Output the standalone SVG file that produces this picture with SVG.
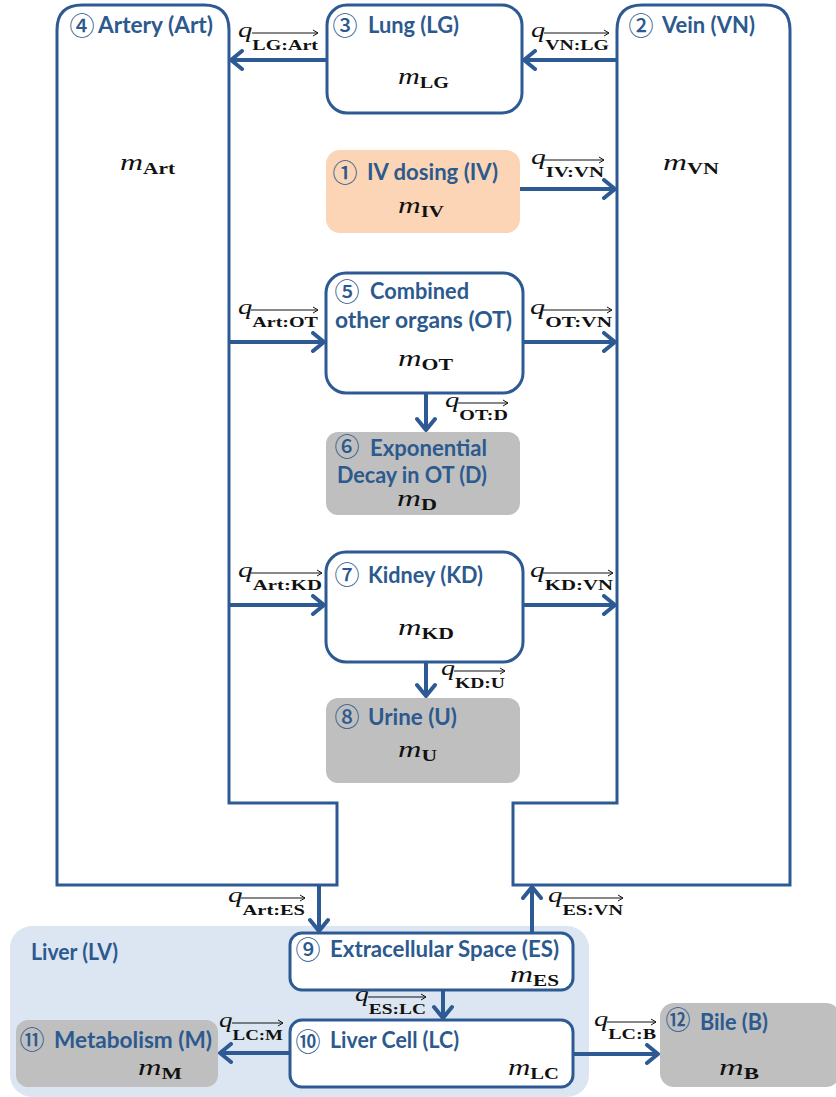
<svg xmlns="http://www.w3.org/2000/svg" width="836" height="1097" viewBox="0 0 836 1097">
<defs>
<style>
.ln{fill:none;stroke:#2E5A94;stroke-width:4;marker-end:url(#ah)}
.bx{stroke:#2E5A94;stroke-width:3;fill:#fff}
.gr{fill:#BFBFBF}
.t{font-family:Lato,'Open Sans',sans-serif;font-weight:700;font-size:22px;fill:#2C5A8E}
.c{font-family:'Noto Sans CJK JP',sans-serif;font-weight:500;font-size:25px;fill:#2C5A8E;text-anchor:middle}
.m{font-family:'Liberation Serif',serif;font-style:italic;font-size:24px;fill:#111}
.sb{font-style:normal;font-weight:700;font-size:16px}
.q{font-family:'Liberation Serif',serif;font-style:italic;font-size:20px;fill:#111}
.qs{font-style:normal;font-weight:700;font-size:14px}
.oa{stroke:#111;stroke-width:1;fill:none;marker-end:url(#sa)}
</style>
<marker id="ah" viewBox="0 0 16 22" refX="14" refY="11" markerWidth="16" markerHeight="22" orient="auto" markerUnits="userSpaceOnUse">
<path d="M3,2 L14,11 L3,20" fill="none" stroke="#2E5A94" stroke-width="4" stroke-linecap="round" stroke-linejoin="round"/>
</marker>
<marker id="sa" viewBox="0 0 8 8" refX="7" refY="4" markerWidth="8" markerHeight="8" orient="auto" markerUnits="userSpaceOnUse">
<path d="M2,1 L7,4 L2,7" fill="none" stroke="#111" stroke-width="1"/>
</marker>
</defs>
<rect width="836" height="1097" fill="#fff"/>

<g id="liver-region">
<rect x="10" y="926" width="579" height="171" rx="22" fill="#DCE6F2"/>
<text class="t" x="31" y="960" textLength="87" lengthAdjust="spacingAndGlyphs">Liver (LV)</text>
</g>

<g id="artery">
<path class="bx" d="M57,885 L57,30 Q57,5 82,5 L204,5 Q229,5 229,30 L229,803 L337,803 L337,885 Z"/>
<text class="c" x="82" y="35">④</text>
<text class="t" x="98" y="33" textLength="115" lengthAdjust="spacingAndGlyphs">Artery (Art)</text>
<text class="m" x="120" y="170" textLength="55" lengthAdjust="spacingAndGlyphs">m<tspan class="sb" dy="4">Art</tspan></text>
</g>

<g id="vein">
<path class="bx" d="M790,885 L790,30 Q790,5 765,5 L642,5 Q617,5 617,30 L617,803 L513,803 L513,885 Z"/>
<text class="c" x="641" y="35">②</text>
<text class="t" x="662" y="33" textLength="93" lengthAdjust="spacingAndGlyphs">Vein (VN)</text>
<text class="m" x="663" y="170" textLength="56" lengthAdjust="spacingAndGlyphs">m<tspan class="sb" dy="4">VN</tspan></text>
</g>

<g id="lung">
<rect class="bx" x="327" y="5" width="195" height="108" rx="20"/>
<text class="c" x="345" y="35">③</text>
<text class="t" x="368" y="33" textLength="91" lengthAdjust="spacingAndGlyphs">Lung (LG)</text>
<text class="m" x="398" y="84" textLength="51" lengthAdjust="spacingAndGlyphs">m<tspan class="sb" dy="4">LG</tspan></text>
</g>

<g id="iv-dosing">
<rect x="326" y="150" width="194" height="83" rx="14" fill="#FBD5B5"/>
<text class="c" x="345" y="182">①</text>
<text class="t" x="367" y="180" textLength="131" lengthAdjust="spacingAndGlyphs">IV dosing (IV)</text>
<text class="m" x="398" y="213" textLength="46" lengthAdjust="spacingAndGlyphs">m<tspan class="sb" dy="4">IV</tspan></text>
</g>

<g id="other-organs">
<rect class="bx" x="326" y="273" width="197" height="120" rx="20"/>
<text class="c" x="347" y="301">⑤</text>
<text class="t" x="370" y="299" textLength="99" lengthAdjust="spacingAndGlyphs">Combined</text>
<text class="t" x="335" y="328" textLength="177" lengthAdjust="spacingAndGlyphs">other organs (OT)</text>
<text class="m" x="398" y="366" textLength="55" lengthAdjust="spacingAndGlyphs">m<tspan class="sb" dy="4">OT</tspan></text>
</g>

<g id="decay">
<rect class="gr" x="326" y="432" width="194" height="83" rx="12"/>
<text class="c" x="347" y="456">⑥</text>
<text class="t" x="370" y="456" textLength="117" lengthAdjust="spacingAndGlyphs">Exponential</text>
<text class="t" x="337" y="483" textLength="150" lengthAdjust="spacingAndGlyphs">Decay in OT (D)</text>
<text class="m" x="397" y="506" textLength="40" lengthAdjust="spacingAndGlyphs">m<tspan class="sb" dy="4">D</tspan></text>
</g>

<g id="kidney">
<rect class="bx" x="326" y="552" width="197" height="110" rx="20"/>
<text class="c" x="347" y="584">⑦</text>
<text class="t" x="368" y="583" textLength="115" lengthAdjust="spacingAndGlyphs">Kidney (KD)</text>
<text class="m" x="398" y="635" textLength="56" lengthAdjust="spacingAndGlyphs">m<tspan class="sb" dy="4">KD</tspan></text>
</g>

<g id="urine">
<rect class="gr" x="326" y="698" width="194" height="85" rx="12"/>
<text class="c" x="347" y="726">⑧</text>
<text class="t" x="368" y="725" textLength="89" lengthAdjust="spacingAndGlyphs">Urine (U)</text>
<text class="m" x="398" y="757" textLength="39" lengthAdjust="spacingAndGlyphs">m<tspan class="sb" dy="4">U</tspan></text>
</g>

<g id="extracellular">
<rect class="bx" x="290" y="933" width="283" height="57" rx="12"/>
<text class="c" x="308" y="959">⑨</text>
<text class="t" x="330" y="957" textLength="229" lengthAdjust="spacingAndGlyphs">Extracellular Space (ES)</text>
<text class="m" x="510" y="982" textLength="49" lengthAdjust="spacingAndGlyphs">m<tspan class="sb" dy="4">ES</tspan></text>
</g>

<g id="liver-cell">
<rect class="bx" x="290" y="1020" width="283" height="67" rx="12"/>
<text class="c" x="308" y="1051">⑩</text>
<text class="t" x="330" y="1048" textLength="129" lengthAdjust="spacingAndGlyphs">Liver Cell (LC)</text>
<text class="m" x="508" y="1075" textLength="51" lengthAdjust="spacingAndGlyphs">m<tspan class="sb" dy="4">LC</tspan></text>
</g>

<g id="metabolism">
<rect class="gr" x="16" y="1020" width="202" height="67" rx="12"/>
<text class="c" x="32" y="1049">⑪</text>
<text class="t" x="54" y="1048" textLength="158" lengthAdjust="spacingAndGlyphs">Metabolism (M)</text>
<text class="m" x="138" y="1075" textLength="44" lengthAdjust="spacingAndGlyphs">m<tspan class="sb" dy="4">M</tspan></text>
</g>

<g id="bile">
<rect class="gr" x="660" y="1003" width="180" height="84" rx="14"/>
<text class="c" x="678" y="1029">⑫</text>
<text class="t" x="700" y="1030" textLength="68" lengthAdjust="spacingAndGlyphs">Bile (B)</text>
<text class="m" x="719" y="1075" textLength="40" lengthAdjust="spacingAndGlyphs">m<tspan class="sb" dy="4">B</tspan></text>
</g>

<g id="connectors">
<path class="ln" d="M327,60 L231,60"/>
<path class="ln" d="M617,60 L524,60"/>
<path class="ln" d="M520,189 L615,189"/>
<path class="ln" d="M229,342 L324,342"/>
<path class="ln" d="M523,342 L615,342"/>
<path class="ln" d="M426,393 L426,430"/>
<path class="ln" d="M229,605 L324,605"/>
<path class="ln" d="M523,605 L615,605"/>
<path class="ln" d="M426,662 L426,696"/>
<path class="ln" d="M319,885 L319,931"/>
<path class="ln" d="M532,933 L532,887"/>
<path class="ln" d="M443,990 L443,1018"/>
<path class="ln" d="M290,1053 L220,1053"/>
<path class="ln" d="M573,1054 L658,1054"/>
</g>

<g id="flow-labels">
<text class="q" x="238" y="37" textLength="80" lengthAdjust="spacingAndGlyphs">q<tspan class="qs" dy="13">LG:Art</tspan></text>
<path class="oa" d="M252,33 L318,33"/>
<text class="q" x="531" y="37" textLength="78" lengthAdjust="spacingAndGlyphs">q<tspan class="qs" dy="13">VN:LG</tspan></text>
<path class="oa" d="M544,33 L609,33"/>
<text class="q" x="531" y="164" textLength="73" lengthAdjust="spacingAndGlyphs">q<tspan class="qs" dy="13">IV:VN</tspan></text>
<path class="oa" d="M544,160 L604,160"/>
<text class="q" x="238" y="314" textLength="80" lengthAdjust="spacingAndGlyphs">q<tspan class="qs" dy="13">Art:OT</tspan></text>
<path class="oa" d="M251,310 L318,310"/>
<text class="q" x="530" y="314" textLength="82" lengthAdjust="spacingAndGlyphs">q<tspan class="qs" dy="13">OT:VN</tspan></text>
<path class="oa" d="M543,310 L612,310"/>
<text class="q" x="445" y="407" textLength="63" lengthAdjust="spacingAndGlyphs">q<tspan class="qs" dy="13">OT:D</tspan></text>
<path class="oa" d="M458,403 L508,403"/>
<text class="q" x="238" y="577" textLength="84" lengthAdjust="spacingAndGlyphs">q<tspan class="qs" dy="13">Art:KD</tspan></text>
<path class="oa" d="M251,573 L322,573"/>
<text class="q" x="530" y="577" textLength="83" lengthAdjust="spacingAndGlyphs">q<tspan class="qs" dy="13">KD:VN</tspan></text>
<path class="oa" d="M543,573 L613,573"/>
<text class="q" x="441" y="675" textLength="64" lengthAdjust="spacingAndGlyphs">q<tspan class="qs" dy="13">KD:U</tspan></text>
<path class="oa" d="M454,671 L505,671"/>
<text class="q" x="228" y="902" textLength="77" lengthAdjust="spacingAndGlyphs">q<tspan class="qs" dy="13">Art:ES</tspan></text>
<path class="oa" d="M241,898 L305,898"/>
<text class="q" x="548" y="902" textLength="75" lengthAdjust="spacingAndGlyphs">q<tspan class="qs" dy="13">ES:VN</tspan></text>
<path class="oa" d="M561,898 L623,898"/>
<text class="q" x="355" y="1001" textLength="71" lengthAdjust="spacingAndGlyphs">q<tspan class="qs" dy="13">ES:LC</tspan></text>
<path class="oa" d="M368,997 L426,997"/>
<text class="q" x="219" y="1027" textLength="64" lengthAdjust="spacingAndGlyphs">q<tspan class="qs" dy="13">LC:M</tspan></text>
<path class="oa" d="M232,1023 L283,1023"/>
<text class="q" x="594" y="1026" textLength="62" lengthAdjust="spacingAndGlyphs">q<tspan class="qs" dy="13">LC:B</tspan></text>
<path class="oa" d="M607,1022 L656,1022"/>
</g>
</svg>
